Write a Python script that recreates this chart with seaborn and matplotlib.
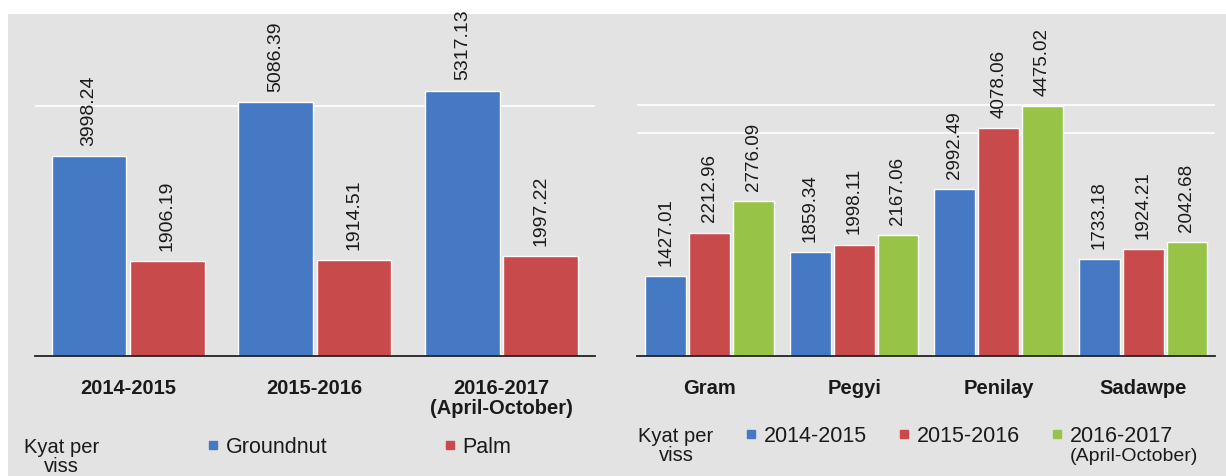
import numpy as np
import pandas as pd
import matplotlib
matplotlib.use('Agg')
import matplotlib.pyplot as plt
from matplotlib.lines import Line2D
from matplotlib.patches import Rectangle
import seaborn as sns

# ---- data ----
periods = ['2014-2015', '2015-2016', '2016-2017\n(April-October)']
oils = ['Groundnut', 'Palm']
groundnut = [3998.24, 5086.39, 5317.13]
palm = [1906.19, 1914.51, 1997.22]

pulses = ['Gram', 'Pegyi', 'Penilay', 'Sadawpe']
seasons = ['2014-2015', '2015-2016', '2016-2017']
price_1415 = [1427.01, 1859.34, 2992.49, 1733.18]
price_1516 = [2212.96, 1998.11, 4078.06, 1924.21]
price_1617 = [2776.09, 2167.06, 4475.02, 2042.68]

BG = '#e3e3e3'
BLUE = '#4579c4'
RED = '#c94a4a'
GREEN = '#97c447'
INK = '#1a1a1a'

oil_df = pd.DataFrame({
    'period': periods * 2,
    'oil': [oils[0]] * 3 + [oils[1]] * 3,
    'price': groundnut + palm,
})
pulse_df = pd.DataFrame({
    'pulse': pulses * 3,
    'season': [s for s in seasons for _ in pulses],
    'price': price_1415 + price_1516 + price_1617,
})

sns.set_style('white')
plt.rcParams['font.family'] = ['Liberation Sans', 'DejaVu Sans']

fig = plt.figure(figsize=(12.26, 4.77), dpi=100)
fig.patches.append(Rectangle((8 / 1226, 0), 1, 462 / 477, transform=fig.transFigure,
                             facecolor=BG, edgecolor='none', zorder=-10))

ax1 = fig.add_axes([34.8 / 1226, 120 / 477, 560 / 1226, 342 / 477])
ax2 = fig.add_axes([637.4 / 1226, 120 / 477, 578 / 1226, 342 / 477])

sns.barplot(data=oil_df, x='period', y='price', hue='oil', order=periods, hue_order=oils,
            palette=[BLUE, RED], width=0.84, gap=0.05, errorbar=None, legend=False,
            saturation=1, ax=ax1)
sns.barplot(data=pulse_df, x='pulse', y='price', hue='season', order=pulses, hue_order=seasons,
            palette=[BLUE, RED, GREEN], width=0.91, gap=0.07, errorbar=None, legend=False,
            saturation=1, ax=ax2)


def style_axis(ax, ncat, ymax, grid_at, label_size):
    ax.set_facecolor(BG)
    ax.set_xlim(-0.5, ncat - 0.5)
    ax.set_ylim(0, ymax)
    ax.set_yticks(grid_at)
    ax.yaxis.grid(True, color='white', linewidth=1.2)
    ax.set_axisbelow(True)
    ax.tick_params(axis='y', length=0, labelleft=False)
    ax.set_xlabel('')
    ax.set_ylabel('')
    for side in ['top', 'left', 'right']:
        ax.spines[side].set_visible(False)
    ax.spines['bottom'].set_color('#222222')
    ax.spines['bottom'].set_linewidth(1.3)
    ax.set_xticks(np.arange(ncat + 1) - 0.5, minor=True)
    ax.tick_params(axis='x', which='minor', length=7, direction='inout', color='#222222', width=1.2)
    ax.tick_params(axis='x', which='major', length=0, pad=16)
    for lbl in ax.get_xticklabels():
        lbl.set_fontweight('bold')
        lbl.set_fontsize(14.5)
        lbl.set_color(INK)
        lbl.set_linespacing(1.05)
    for cont in ax.containers:
        ax.bar_label(cont, fmt='%.2f', rotation=90, padding=8, fontsize=label_size, color=INK)


style_axis(ax1, 3, 6850, [5000], 14)
style_axis(ax2, 4, 6130, [4000, 4500], 13.5)

# legends along the bottom
h1 = [Line2D([], [], marker='s', linestyle='', markersize=6, color=c) for c in [BLUE, RED]]
leg1 = ax1.legend(h1, oils, ncol=2, loc='center left', bbox_to_anchor=(208 / 1226, 29 / 477),
                  bbox_transform=fig.transFigure, frameon=False, fontsize=15.5,
                  handlelength=0.5, handletextpad=0.35, columnspacing=5.4,
                  borderpad=0, borderaxespad=0)
for t in leg1.get_texts():
    t.set_color(INK)

h2 = [Line2D([], [], marker='s', linestyle='', markersize=6, color=c) for c in [BLUE, RED, GREEN]]
leg2 = ax2.legend(h2, seasons, ncol=3, loc='center left', bbox_to_anchor=(746 / 1226, 40 / 477),
                  bbox_transform=fig.transFigure, frameon=False, fontsize=15.5,
                  handlelength=0.5, handletextpad=0.35, columnspacing=1.45,
                  borderpad=0, borderaxespad=0)
for t in leg2.get_texts():
    t.set_color(INK)

fig.text(61.5 / 1226, 20 / 477, 'Kyat per\nviss', ha='center', va='center',
         multialignment='center', fontsize=14.5, linespacing=0.95, color=INK)
fig.text(676 / 1226, 31 / 477, 'Kyat per\nviss', ha='center', va='center',
         multialignment='center', fontsize=14.5, linespacing=0.95, color=INK)

# second line of the last legend entry, placed under its text once the layout is known
fig.canvas.draw()
bb = leg2.get_texts()[2].get_window_extent()
fig.text(bb.x0 / fig.bbox.width, (bb.y0 - 1) / fig.bbox.height, '(April-October)',
         ha='left', va='top', fontsize=14, color=INK)

fig.savefig('out.png', dpi=100, facecolor='white')
